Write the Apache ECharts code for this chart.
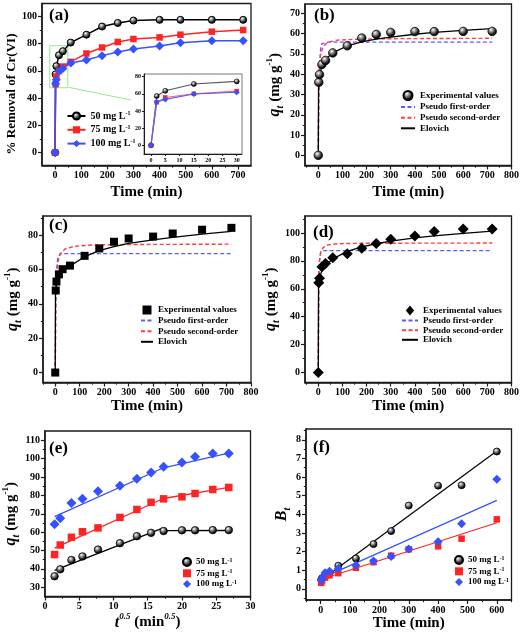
<!DOCTYPE html>
<html><head><meta charset="utf-8">
<script src="https://cdn.jsdelivr.net/npm/echarts@6/dist/echarts.min.js"></script>
<style>html,body{margin:0;padding:0;background:#fff}#c{width:522px;height:636px}</style>
</head><body><div id="c"></div>
<script>
// ---------------- DATA ----------------
const timeMin = [0,2,5,15,30,60,120,180,240,300,400,480,600,720];
const removal50 = [0,57.5,63.5,71.5,74.5,80.8,86.6,92.6,95.2,97,97.5,97.5,97.5,97.5];
const removal75 = [0,50.2,55.8,60,63.2,66.6,72.8,77.2,81.2,83.4,84.6,86.6,88.8,90];
const removal100 = [0,50.5,53.5,59.8,61.8,65.8,68,71.2,73.9,76.1,78.3,80.7,82.2,82.2];

const qt50 = [0,36,39.8,44.8,46.8,50.5,54,57.8,59.6,60.6,61,61,61.1,61.1];
const qt75 = [0,47.8,53,57.2,60.2,62.3,68,72.3,76.2,78.1,79.2,81,83.2,84.3];
const qt100 = [0,64.3,67.5,75.8,78.2,82.3,85.2,89,92.5,95.5,97.9,101,102.8,102.8];

// fitted curves [t, q]
const pfoB = [[0,0],[2,26],[5,43],[10,53],[15,55],[20,55.6],[40,55.8],[720,55.8]];
const psoB = [[0,0],[2,33],[5,44],[10,50],[20,53.5],[40,55.8],[80,56.8],[150,57.2],[300,57.5],[720,57.7]];
const eloB = [[0,0],[1,33],[2,35],[5,39],[15,44],[30,47.3],[60,50.6],[120,53.9],[180,55.9],[240,57.3],[300,58.3],[400,59.7],[480,60.6],[600,61.6],[720,62.5]];
const pfoC = [[0,0],[2,40],[5,58],[10,66.5],[20,69.2],[40,69.3],[720,69.3]];
const psoC = [[0,0],[2,45],[5,57],[10,64],[20,69],[40,72],[80,73.6],[150,74.3],[300,74.6],[720,74.8]];
const eloC = [[0,0],[1,45],[2,47],[5,52],[15,56.5],[30,59],[60,62],[120,67.5],[180,71],[240,73.3],[300,75.2],[400,77.3],[480,78.7],[600,80.6],[720,82.2]];
const pfoD = [[0,0],[2,62],[5,80],[10,86.5],[20,87.4],[40,87.4],[720,87.4]];
const psoD = [[0,0],[2,70],[5,80],[10,86],[20,89.5],[40,91.5],[80,92.3],[150,92.6],[300,92.7],[720,92.8]];
const eloD = [[0,0],[1,62],[2,64],[5,68],[15,73],[30,76.5],[60,81.5],[120,86.8],[180,90],[240,92.3],[300,94.2],[400,96.5],[480,97.9],[600,99.8],[720,101.3]];

// intraparticle diffusion (e)
const sqrtTime = [1.41,2.24,3.87,5.48,7.75,10.95,13.42,15.49,17.32,20,21.91,24.49,26.83];
const fitE50 = [[1.41,39.2],[17.1,62.0],[17.5,60.8],[26.8,60.9]];
const fitE75 = [[1.41,51.3],[17.3,78.3],[26.8,84.4]];
const fitE100 = [[1.41,68.4],[17.3,95.0],[26.8,103.0]];

// Boyd plot (f)
const timeF = [2,5,15,30,60,120,180,240,300,400,480,600];
const bt50 = [0.5,0.58,0.72,0.88,1.24,1.63,2.4,3.1,4.47,5.54,5.56,7.37];
const bt75 = [0.32,0.45,0.6,0.72,0.84,1.13,1.43,1.78,2.12,2.28,2.69,3.73];
const bt100 = [0.45,0.55,0.86,0.95,1.09,1.26,1.49,1.74,2.14,2.53,3.5,5.88];
const fitF50 = [[0,0.45],[600,7.4]];
const fitF75 = [[0,0.5],[600,3.55]];
const fitF100 = [[0,0.55],[600,4.75]];

// ticks
const tA_x = [0,100,200,300,400,500,600,700], tA_xm = [50,150,250,350,450,550,650];
const tA_y = [0,20,40,60,80,100], tA_ym = [10,30,50,70,90];
const tT_x = [0,100,200,300,400,500,600,700,800], tT_xm = [-50,50,150,250,350,450,550,650,750];
const tB_y = [0,10,20,30,40,50,60,70], tB_ym = [5,15,25,35,45,55,65];
const tC_y = [0,20,40,60,80], tC_ym = [10,30,50,70,90];
const tD_y = [0,20,40,60,80,100], tD_ym = [10,30,50,70,90,110];
const tE_x = [0,5,10,15,20,25,30], tE_xm = [2.5,7.5,12.5,17.5,22.5,27.5];
const tE_y = [30,40,50,60,70,80,90,100,110], tE_ym = [35,45,55,65,75,85,95,105];
const tF_x = [0,100,200,300,400,500,600], tF_xm = [-50,50,150,250,350,450,550,650];
const tF_y = [0,1,2,3,4,5,6,7,8], tF_ym = [-0.5,0.5,1.5,2.5,3.5,4.5,5.5,6.5,7.5,8.5];
const tI_x = [0,5,10,15,20,25,30], tI_y = [0,20,40,60,80];

// ---------------- STYLE / BUILD ----------------
const FONT = 'Liberation Serif';
const BALL = {type:'radial', x:0.38, y:0.33, r:0.72, colorStops:[{offset:0,color:'#ffffff'},{offset:0.28,color:'#9a9a9a'},{offset:0.7,color:'#151515'},{offset:1,color:'#000'}]};
const RED = '#ff2323', BLUE = '#3651ff', DBLUE = '#5b5bff', DRED = '#ff3b45';
const zip = (xs, ys) => xs.map((x, i) => [x, ys[i]]);

const richName = {
  n:{fontFamily:FONT,fontWeight:'bold',fontSize:15,color:'#000',lineHeight:20},
  i:{fontFamily:FONT,fontWeight:'bold',fontStyle:'italic',fontSize:16,color:'#000',lineHeight:20},
  sub:{fontFamily:FONT,fontWeight:'bold',fontStyle:'italic',fontSize:10,color:'#000',verticalAlign:'bottom',lineHeight:10},
  sup:{fontFamily:FONT,fontWeight:'bold',fontSize:9,color:'#000',verticalAlign:'top',lineHeight:9},
  supi:{fontFamily:FONT,fontWeight:'bold',fontStyle:'italic',fontSize:9,color:'#000',verticalAlign:'top',lineHeight:9}
};

const xAxes = [], yAxes = [];
function axes(list, g, dim, c) {
  const pos = dim === 'x' ? 'bottom' : 'left';
  list.push({
    gridIndex:g, type:'value', min:c.min, max:c.max, position:pos, offset:0,
    axisLine:{show:true,onZero:false,lineStyle:{color:'#1a1a1a',width:c.lw||1.5}},
    axisTick:{show:true,inside:false,length:c.tl||4,customValues:c.major,lineStyle:{color:'#1a1a1a',width:1.2}},
    axisLabel:{show:true,customValues:c.major,margin:c.margin||5,fontFamily:FONT,fontWeight:'bold',fontSize:c.fs||10,color:'#000'},
    splitLine:{show:false},
    name:c.name||'', nameLocation:'middle', nameGap:c.gap||20,
    nameTextStyle:Object.assign({fontFamily:FONT,fontWeight:'bold',fontSize:15,color:'#000',rich:richName}, c.nts||{})
  });
  list.push({
    gridIndex:g, type:'value', min:c.min, max:c.max, position:pos, offset:0,
    axisLine:{show:false,onZero:false},
    axisTick:{show:!!c.minor,inside:false,length:2.2,customValues:c.minor||[],lineStyle:{color:'#1a1a1a',width:1}},
    axisLabel:{show:false}, splitLine:{show:false}
  });
}
const timeName = 'Time (min)';
const qName = '{i|q}{sub|t}{n| (mg g}{sup|-1}{n|)}';
// grid 0: (a)
axes(xAxes,0,'x',{min:-50,max:750,major:tA_x,minor:tA_xm,name:timeName,gap:19});
axes(yAxes,0,'y',{min:-9.5,max:109.5,major:tA_y,minor:tA_ym,name:'% Removal of Cr(VI)',gap:23,nts:{fontSize:13,padding:[0,19,0,0]}});
// grid 1: (b)
axes(xAxes,1,'x',{min:-55,max:800,major:tT_x,minor:tT_xm,name:timeName,gap:19});
axes(yAxes,1,'y',{min:-5,max:74.6,major:tB_y,minor:tB_ym,name:qName,gap:20});
// grid 2: (c)
axes(xAxes,2,'x',{min:-50,max:800,major:tT_x,minor:tT_xm,name:timeName,gap:14});
axes(yAxes,2,'y',{min:-5.8,max:91.2,major:tC_y,minor:tC_ym,name:qName,gap:20});
// grid 3: (d)
axes(xAxes,3,'x',{min:-55,max:800,major:tT_x,minor:tT_xm,name:timeName,gap:14});
axes(yAxes,3,'y',{min:-7.2,max:112.2,major:tD_y,minor:tD_ym,name:qName,gap:19});
// grid 4: (e)
axes(xAxes,4,'x',{min:0,max:30,major:tE_x,minor:tE_xm,name:'{i|t}{supi|0.5}{n| (min}{supi|0.5}{n|)}',gap:12});
axes(yAxes,4,'y',{min:25,max:115,major:tE_y,minor:tE_ym,name:qName,gap:19});
// grid 5: (f)
axes(xAxes,5,'x',{min:-50,max:650,major:tF_x,minor:tF_xm,name:timeName,gap:8});
axes(yAxes,5,'y',{min:-0.6,max:8.58,major:tF_y,minor:tF_ym,name:'{i|B}{sub|t}',gap:14});
// grid 6: inset of (a)
axes(xAxes,6,'x',{min:-2.45,max:31.85,major:tI_x,fs:6,tl:2,lw:1,margin:3});
axes(yAxes,6,'y',{min:-10.1,max:83.1,major:tI_y,fs:6,tl:2,lw:1,margin:3});

const gridBase = {show:true,borderColor:'#1a1a1a',borderWidth:1.3,backgroundColor:'transparent'};
const grids = [
  Object.assign({left:42,top:3.5,width:209,height:162},gridBase),
  Object.assign({left:305,top:4,width:206.5,height:161.5},gridBase),
  Object.assign({left:43,top:216,width:208,height:166.5},gridBase),
  Object.assign({left:305,top:216,width:206.5,height:166.5},gridBase),
  Object.assign({left:42,top:431,width:208.5,height:165.5},gridBase),
  Object.assign({left:306,top:429,width:205.5,height:171},gridBase),
  {show:true,left:144,top:74,width:98,height:80,borderColor:'#555',borderWidth:0.8,backgroundColor:'#fff'}
];

const ax = g => ({xAxisIndex:2*g, yAxisIndex:2*g});
const S = [];
function lineSym(name,g,data,color,symbol,size,itemColor,extra){
  S.push(Object.assign({name,type:'line',...ax(g),data,symbol,symbolSize:size,showSymbol:true,
    lineStyle:{color,width:1.5},itemStyle:{color:itemColor||color,borderColor:color,borderWidth:itemColor?1:0},z:3},extra||{}));
}
function scat(name,g,data,color,symbol,size,border){
  S.push({name,type:'scatter',...ax(g),data,symbol,symbolSize:size,
    itemStyle:{color,borderColor:border||color,borderWidth:border?0.8:0,opacity:1},z:5});
}
function fit(name,g,data,color,dashed,w){
  S.push({name,type:'line',...ax(g),data,symbol:'none',showSymbol:false,smooth:false,
    itemStyle:{color},
    lineStyle:{color,width:w||1.4,type:dashed?[4,2.5]:'solid'},z:4});
}
// (a)
lineSym('a50',0,zip(timeMin,removal50),'#000','circle',7,BALL,{markArea:{silent:true,itemStyle:{color:'rgba(0,0,0,0)',borderColor:'#92e892',borderWidth:1},data:[[{coord:[-20.4,78.5]},{coord:[48.8,47.6]}]]}});
lineSym('a75',0,zip(timeMin,removal75),RED,'rect',6.5);
lineSym('a100',0,zip(timeMin,removal100),BLUE,'diamond',9);
// inset
S.push({name:'i50',type:'line',...ax(6),data:zip(timeMin.slice(0,5),removal50.slice(0,5)),symbol:'circle',symbolSize:5,lineStyle:{color:'#555',width:1.1},itemStyle:{color:BALL,borderColor:'#000',borderWidth:0.6},z:3});
S.push({name:'i75',type:'line',...ax(6),data:zip(timeMin.slice(0,5),removal75.slice(0,5)),symbol:'rect',symbolSize:4.5,lineStyle:{color:'#ff6060',width:1.1},itemStyle:{color:RED},z:3});
S.push({name:'i100',type:'line',...ax(6),data:zip(timeMin.slice(0,5),removal100.slice(0,5)),symbol:'diamond',symbolSize:6,lineStyle:{color:'#5060ff',width:1.1},itemStyle:{color:BLUE},z:3});
// (b)
fit('b_pfo',1,pfoB,DBLUE,true); fit('b_pso',1,psoB,DRED,true); fit('b_elo',1,eloB,'#000',false,1.3);
scat('b_exp',1,zip(timeMin,qt50),BALL,'circle',8.5,'#000');
// (c)
fit('c_pfo',2,pfoC,DBLUE,true); fit('c_pso',2,psoC,DRED,true); fit('c_elo',2,eloC,'#000',false,1.3);
scat('c_exp',2,zip(timeMin,qt75),'#000','rect',8);
// (d)
fit('d_pfo',3,pfoD,DBLUE,true); fit('d_pso',3,psoD,DRED,true); fit('d_elo',3,eloD,'#000',false,1.3);
scat('d_exp',3,zip(timeMin,qt100),'#000','diamond',11);
// (e)
fit('e_f50',4,fitE50,'#000',false,1.3); fit('e_f75',4,fitE75,RED,false,1.3); fit('e_f100',4,fitE100,BLUE,false,1.3);
scat('e50',4,zip(sqrtTime,qt50.slice(1)),BALL,'circle',7.5,'#000');
scat('e75',4,zip(sqrtTime,qt75.slice(1)),RED,'rect',7.5);
scat('e100',4,zip(sqrtTime,qt100.slice(1)),BLUE,'diamond',10);
// (f)
fit('f_f50',5,fitF50,'#000',false,1.2); fit('f_f75',5,fitF75,RED,false,1.2); fit('f_f100',5,fitF100,BLUE,false,1.2);
scat('f50',5,zip(timeF,bt50),BALL,'circle',7,'#000');
scat('f75',5,zip(timeF,bt75),RED,'rect',6.5);
scat('f100',5,zip(timeF,bt100),BLUE,'diamond',9);

const labelMap = {
  a50:'{t|50 mg L}{s|-1}', a75:'{t|75 mg L}{s|-1}', a100:'{t|100 mg L}{s|-1}',
  e50:'{t|50 mg L}{s|-1}', e75:'{t|75 mg L}{s|-1}', e100:'{t|100 mg L}{s|-1}',
  f50:'{t|50 mg L}{s|-1}', f75:'{t|75 mg L}{s|-1}', f100:'{t|100 mg L}{s|-1}',
  b_exp:'{t|Experimental values}', b_pfo:'{t|Pseudo first-order}', b_pso:'{t|Pseudo second-order}', b_elo:'{t|Elovich}'
};
['c','d'].forEach(p=>{labelMap[p+'_exp']=labelMap.b_exp;labelMap[p+'_pfo']=labelMap.b_pfo;labelMap[p+'_pso']=labelMap.b_pso;labelMap[p+'_elo']=labelMap.b_elo;});
const lineOnly = n => ({name:n, itemStyle:{opacity:0}});
const SQUARE = 'path://M0,0H10V10H0Z', DIAM = 'path://M5,0L10,6L5,12L0,6Z';
function legend(data,left,top,iw,ih,gap,fs){
  return {data,left,top,orient:'vertical',padding:0,itemWidth:iw,itemHeight:ih,itemGap:gap,selectedMode:false,symbolKeepAspect:true,
    formatter:n=>labelMap[n],
    textStyle:{rich:{t:{fontFamily:FONT,fontWeight:'bold',fontSize:fs,color:'#000',lineHeight:fs+1},
      s:{fontFamily:FONT,fontWeight:'bold',fontSize:6,color:'#000',verticalAlign:'top',lineHeight:6}}}};
}
const fitLegend = (p,exp) => [exp||p+'_exp', lineOnly(p+'_pfo'), lineOnly(p+'_pso'), lineOnly(p+'_elo')];
const legends = [
  legend(['a50','a75','a100'],66.5,110.5,18,9,3.3,10),
  legend(fitLegend('b'),400,90,14,9,1.6,9),
  legend(fitLegend('c',{name:'c_exp',icon:SQUARE}),140,305.5,12,9,1.6,9),
  legend(fitLegend('d',{name:'d_exp',icon:DIAM}),401,305.5,16,10,0.6,9),
  legend(['e50','e75','e100'],182,557,8,8,1.3,9),
  legend(['f50','f75','f100'],454,555,8,8,1.3,9)
];
const tstyle = {fontFamily:FONT,fontWeight:'bold',fontSize:17,color:'#000'};
const titles = [[49,7,'(a)'],[314,7.5,'(b)'],[49,217.5,'(c)'],[313,224,'(d)'],[49,440.5,'(e)'],[313,439,'(f)']]
  .map(([l,t,s])=>({text:s,left:l,top:t,padding:0,textStyle:tstyle}));

const chart = echarts.init(document.getElementById('c'),null,{renderer:'canvas'});
chart.setOption({
  animation:false, backgroundColor:'#fff',
  title:titles, grid:grids, xAxis:xAxes, yAxis:yAxes, legend:legends, series:S,
  graphic:[{type:'line',shape:{x1:68.7,y1:87.3,x2:130.7,y2:100},style:{stroke:'#92e892',lineWidth:1},z:10}]
});
</script></body></html>
